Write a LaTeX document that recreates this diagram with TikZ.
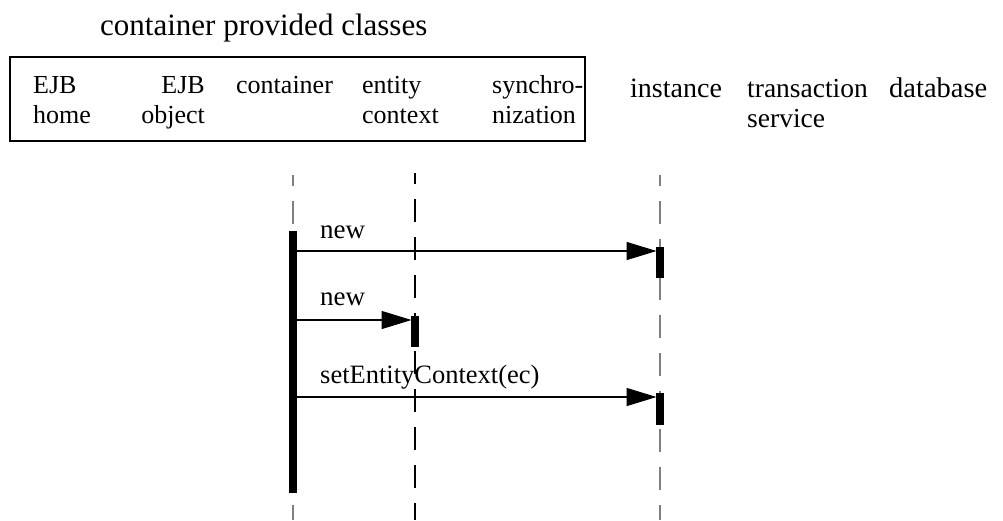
\documentclass[tikz,border=0pt]{standalone}
\usepackage{fontspec}
\setmainfont{Liberation Serif}
\usetikzlibrary{arrows.meta, positioning}

\begin{document}
\begin{tikzpicture}[x=1pt, y=-1pt, font=\fontsize{26}{30}\selectfont,
  lbl/.style={inner sep=0pt, align=left, anchor=base west},
  life/.style={line width=1.3pt, dash pattern=on 23pt off 15pt, dash phase=12pt},
  act/.style={fill=black, draw=none, minimum width=7.5pt, inner sep=0pt},
  msg/.style={-{Triangle[length=30pt, width=18pt]}, line width=1.3pt, shorten >=-0.5pt}]
  \useasboundingbox (0,0) rectangle (1003,520);

  % header
  \node[lbl, font=\fontsize{31}{34}\selectfont] (title) at (100,35) {container provided classes};
  \draw[line width=1.3pt] (10,57) rectangle (585,141);
  \node[lbl] (home) at (33,123) {EJB\\home};
  \node[lbl, align=right, anchor=base east] (object) at (205,123) {EJB\\object};
  \node[lbl] (cont) at (236,93) {container};
  \node[lbl] (ectx) at (362,123) {entity\\context};
  \node[lbl] (sync) at (492,123) {synchro-\\nization};
  \node[lbl, font=\fontsize{28}{30}\selectfont] (inst) at (630,97) {instance};
  \node[lbl, font=\fontsize{27.5}{30}\selectfont] (trans) at (747,127) {transaction\\service};
  \node[lbl, font=\fontsize{28.5}{30}\selectfont] (db) at (889,97) {database};

  % Lebenslinien
  \coordinate (contT) at (293,175);  \coordinate (contB) at (293,520);
  \coordinate (ectxT) at (415,173);  \coordinate (ectxB) at (415,520);
  \coordinate (instT) at (660,175);  \coordinate (instB) at (660,520);
  \draw[life, gray] (contT) -- (contB);
  \draw[life] (ectxT) -- (ectxB);
  \draw[life, gray] (instT) -- (instB);

  % Aktivierungen
  \node[act, minimum height=262pt] (contA) at (293,362) {};
  \node[act, minimum height=31pt] (instA1) at (660,262.5) {};
  \node[act, minimum height=31pt] (ectxA) at (415,331.5) {};
  \node[act, minimum height=32pt] (instA2) at (660,409) {};

  % Nachrichten
  \coordinate (m1) at (293,251);
  \coordinate (m2) at (293,320);
  \coordinate (m3) at (293,397);
  \draw[msg] (contA.east |- m1) -- (instA1.west |- m1);
  \node[lbl, font=\fontsize{27}{30}\selectfont] (new1) at (320,238) {new};
  \draw[msg] (contA.east |- m2) -- (ectxA.west |- m2);
  \node[lbl, font=\fontsize{27}{30}\selectfont] (new2) at (320,305) {new};
  \draw[msg] (contA.east |- m3) -- (instA2.west |- m3);
  \node[lbl, font=\fontsize{26.5}{30}\selectfont] (setctx) at (320,383) {setEntityContext(ec)};
\end{tikzpicture}
\end{document}
